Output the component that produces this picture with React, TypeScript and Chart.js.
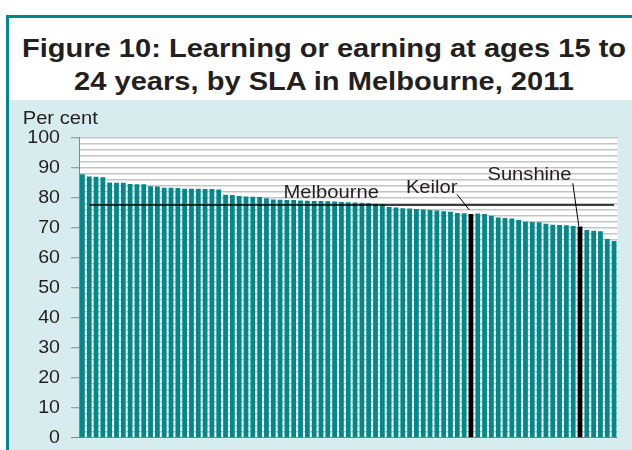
import React, { useEffect, useRef } from "react";
import { Chart, registerables } from "chart.js";

Chart.register(...registerables);

// Learning or earning rate (per cent) at ages 15-24, by SLA, sorted descending
const values: number[] = [
  87.8, 87.1, 87.0, 86.8, 85.1, 85.0, 85.0, 84.6, 84.5, 84.5,
  83.8, 83.7, 83.3, 83.3, 83.2, 83.0, 83.0, 83.0, 82.9, 82.9,
  82.7, 81.0, 80.9, 80.6, 80.4, 80.3, 80.2, 79.8, 79.4, 79.3,
  79.2, 79.2, 79.1, 79.0, 78.9, 78.9, 78.8, 78.7, 78.6, 78.5,
  78.4, 78.3, 78.2, 78.0, 77.9, 76.9, 76.7, 76.5, 76.4, 76.2,
  76.1, 75.9, 75.7, 75.5, 75.3, 74.9, 74.8, 74.6, 74.7, 74.6,
  74.0, 73.4, 73.2, 73.1, 72.6, 72.0, 71.9, 71.8, 71.3, 71.0,
  70.9, 70.8, 70.6, 70.4, 69.2, 69.0, 68.8, 66.2, 65.6,
];

const keilorIndex = 57;
const sunshineIndex = 73;
const categories: string[] = values.map((_, i) =>
  i === keilorIndex ? "Keilor" : i === sunshineIndex ? "Sunshine" : `SLA ${i + 1}`
);
const melbourneAverage = 77.6;
const yTickLabels = [0, 10, 20, 30, 40, 50, 60, 70, 80, 90, 100];

const TEAL = "#00888a";
const LIGHT = "#d7ecee";
const TEXT = "#231f20";
const STRETCH = 1.12;

function stretchText(
  ctx: CanvasRenderingContext2D,
  text: string,
  x: number,
  y: number,
  align: CanvasTextAlign,
  sx: number
) {
  ctx.save();
  ctx.translate(x, y);
  ctx.scale(sx, 1);
  ctx.textAlign = align;
  ctx.textBaseline = "alphabetic";
  ctx.fillText(text, 0, 0);
  ctx.restore();
}

const bgPlugin = {
  id: "plotBg",
  beforeDraw(chart: any) {
    const { ctx, chartArea } = chart;
    ctx.save();
    ctx.fillStyle = "#ffffff";
    ctx.fillRect(chartArea.left, chartArea.top, chartArea.right - chartArea.left, chartArea.bottom - chartArea.top);
    ctx.restore();
  },
};

const annotatePlugin = {
  id: "annotate",
  afterDraw(chart: any) {
    const { ctx } = chart;
    const xs = chart.scales.x;
    const ys = chart.scales.y;
    ctx.save();
    ctx.fillStyle = TEXT;
    ctx.font = "18px 'Liberation Sans', Arial, sans-serif";
    // Per cent axis title
    stretchText(ctx, "Per cent", 13.7, 24, "left", STRETCH);

    // y tick labels (drawn from the y scale)
    ctx.font = "17.5px 'Liberation Sans', Arial, sans-serif";
    ctx.save();
    yTickLabels.forEach((v) => {
      const y = ys.getPixelForValue(v);
      ctx.save();
      ctx.translate(51, y);
      ctx.scale(1.12, 1);
      ctx.textAlign = "right";
      ctx.textBaseline = "middle";
      ctx.fillText(String(v), 0, 0.5);
      ctx.restore();
    });
    ctx.restore();

    ctx.font = "18px 'Liberation Sans', Arial, sans-serif";
    // Melbourne label
    const mx = (xs.getPixelForValue(36) + xs.getPixelForValue(37)) / 2;
    const my = ys.getPixelForValue(melbourneAverage);
    stretchText(ctx, "Melbourne", mx, my - 6.5, "center", STRETCH);

    // Keilor
    const kx = xs.getPixelForValue(keilorIndex);
    const ky = ys.getPixelForValue(values[keilorIndex]);
    stretchText(ctx, "Keilor", kx - 13.5, ky - 21, "right", STRETCH);
    ctx.strokeStyle = "#000";
    ctx.lineWidth = 1;
    ctx.beginPath();
    ctx.moveTo(kx - 14, ky - 19.6);
    ctx.lineTo(kx - 1.6, ky - 3.9);
    ctx.stroke();

    // Sunshine
    const sx = xs.getPixelForValue(sunshineIndex);
    const sy = ys.getPixelForValue(values[sunshineIndex]);
    stretchText(ctx, "Sunshine", sx - 8.5, sy - 46.5, "right", STRETCH);
    ctx.beginPath();
    ctx.moveTo(sx - 7.2, sy - 43.2);
    ctx.lineTo(sx - 1.2, sy - 0.5);
    ctx.stroke();
    ctx.restore();
  },
};

function ChartView() {
  const ref = useRef<HTMLCanvasElement | null>(null);
  useEffect(() => {
    if (!ref.current) return;
    const chart = new Chart(ref.current, {
      type: "bar",
      data: {
        labels: categories,
        datasets: [
          {
            type: "line",
            label: "Melbourne",
            data: values.map((_, i) => (i === 0 ? null : melbourneAverage)),
            borderColor: "#000000",
            borderWidth: 1.5,
            pointRadius: 0,
            fill: false,
            order: 0,
          } as any,
          {
            type: "bar",
            label: "Learning or earning",
            data: values,
            backgroundColor: values.map((_, i) =>
              i === keilorIndex || i === sunshineIndex ? "#000000" : TEAL
            ),
            categoryPercentage: 1,
            barPercentage: 0.7,
            order: 1,
          },
        ],
      },
      options: {
        responsive: false,
        animation: false,
        devicePixelRatio: 1,
        layout: { padding: { left: 0, right: 14.5, top: 37.7, bottom: 12.3 } },
        plugins: { legend: { display: false }, tooltip: { enabled: false } },
        scales: {
          x: { display: false, offset: true },
          y: {
            min: 0,
            max: 100,
            afterFit: (s: any) => {
              s.width = 70;
              s.paddingTop = 0;
              s.paddingBottom = 0;
            },
            ticks: {
              stepSize: 2,
              autoSkip: false,
              padding: 11,
              color: "rgba(0,0,0,0)",
              font: { family: "'Liberation Sans', Arial, sans-serif", size: 1 },
              callback: () => "",
            },
            grid: {
              color: (c: any) => (c.tick && c.tick.value === 0 ? "#868686" : "#c4c4c4"),
              lineWidth: (c: any) => (c.tick && c.tick.value === 0 ? 1 : 1.5),
              tickLength: 8,
              tickWidth: 1,
              tickColor: (c: any) =>
                c.tick && yTickLabels.includes(c.tick.value) ? "#868686" : "rgba(0,0,0,0)",
            },
            border: { color: "#868686", width: 1 },
          },
        },
      },
      plugins: [bgPlugin, annotatePlugin],
    });
    return () => chart.destroy();
  }, []);
  return <canvas ref={ref} width={623} height={350} style={{ display: "block" }} />;
}

export default function App() {
  const titleStyle: React.CSSProperties = {
    position: "absolute",
    left: 0,
    width: 648,
    textAlign: "center",
    fontFamily: "'Liberation Sans', Arial, sans-serif",
    fontWeight: "bold",
    fontSize: "25.5px",
    lineHeight: "26px",
    color: TEXT,
    whiteSpace: "nowrap",
    transform: "scaleX(1.14)",
    transformOrigin: "324px 50%",
  };
  return (
    <div
      style={{
        position: "fixed",
        left: 0,
        top: 0,
        width: 632,
        height: 450,
        background: "#ffffff",
        overflow: "hidden",
      }}
    >
      <div style={{ position: "absolute", left: 6, top: 15, width: 640, height: 3, background: TEAL }} />
      <div style={{ position: "absolute", left: 6, top: 15, width: 3, height: 440, background: TEAL }} />
      <div style={{ position: "absolute", left: 9, top: 100, width: 623, height: 350, background: LIGHT }}>
        <ChartView />
      </div>
      <div style={{ ...titleStyle, top: 34.6 }}>Figure 10: Learning or earning at ages 15 to</div>
      <div style={{ ...titleStyle, top: 67.7 }}>24 years, by SLA in Melbourne, 2011</div>
    </div>
  );
}
